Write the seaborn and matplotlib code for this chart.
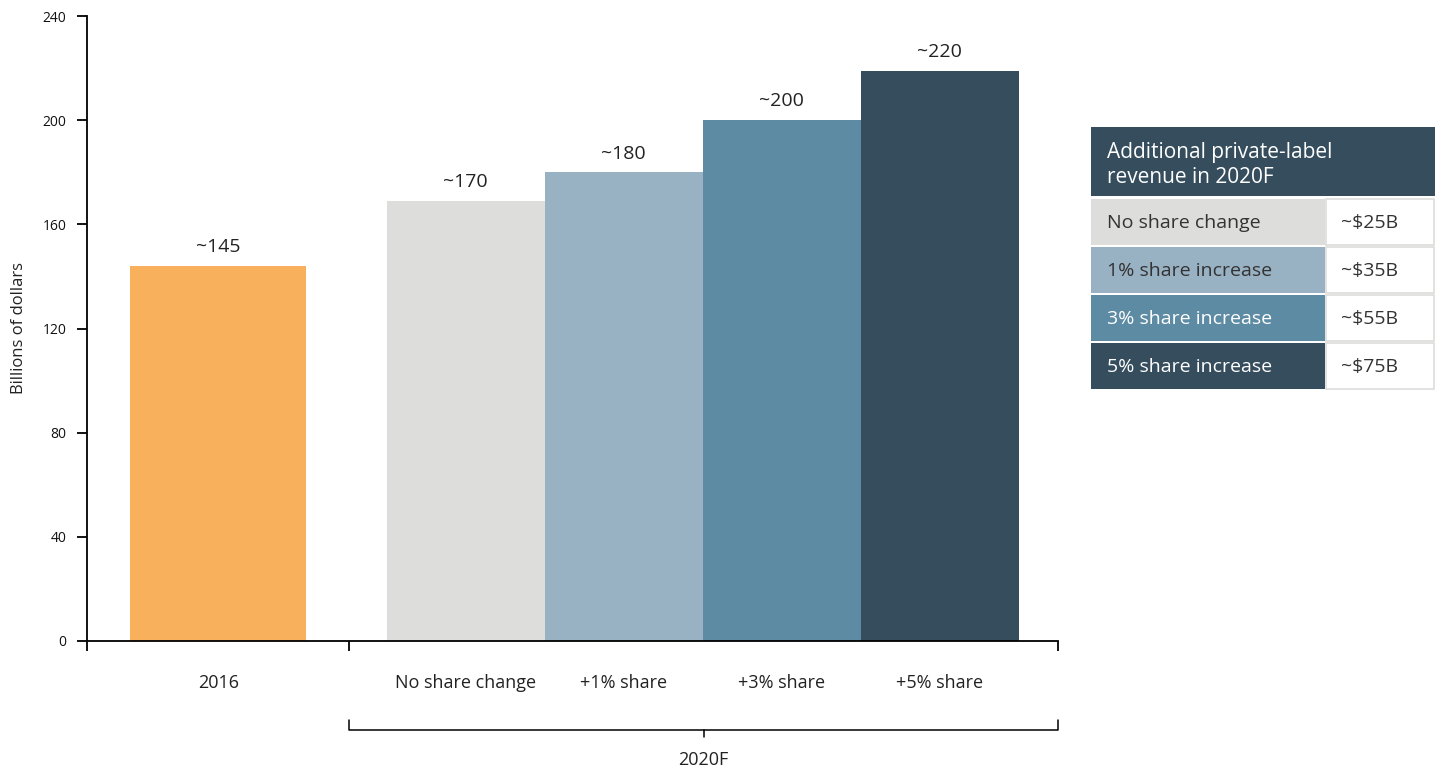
import matplotlib
matplotlib.use("Agg")
import matplotlib.pyplot as plt
import matplotlib.transforms as mtransforms
from matplotlib.patches import Rectangle
import seaborn as sns
import pandas as pd

# ---------------- data ----------------
base_label = ["2016"]
base_value = [144]
base_text = ["~145"]

scenario_labels = ["No share change", "+1% share", "+3% share", "+5% share"]
scenario_values = [169, 180, 200, 219]
scenario_text = ["~170", "~180", "~200", "~220"]

group_label = "2020F"
y_label = "Billions of dollars"
y_ticks = [0, 40, 80, 120, 160, 200, 240]

table_title = "Additional private-label\nrevenue in 2020F"
table_rows = ["No share change", "1% share increase", "3% share increase", "5% share increase"]
table_values = ["~$25B", "~$35B", "~$55B", "~$75B"]

# ---------------- style ----------------
sns.set_theme(style="white")
plt.rcParams["font.family"] = ["Open Sans", "DejaVu Sans"]
text_color = "#222222"

base_color = "#F8B05D"
scenario_colors = ["#DDDDDB", "#98B1C3", "#5D8BA4", "#354D5D"]
row_text_colors = ["#333333", "#333333", "white", "white"]

fig = plt.figure(figsize=(14.4, 7.7), dpi=100)
ax = fig.add_axes([87 / 1440, 129 / 770, (1058 - 87) / 1440, 625 / 770])

# layout (in bar units: one scenario bar = 1 unit)
scen_pos = list(range(len(scenario_labels)))
base_pos = [-1.566]
x_left, x_right, x_split = -2.396, 3.75, -0.737

df_base = pd.DataFrame({"x": base_pos, "y": base_value, "cat": base_label})
df_scen = pd.DataFrame({"x": scen_pos, "y": scenario_values, "cat": scenario_labels})

sns.barplot(data=df_base, x="x", y="y", hue="cat", palette=[base_color],
            native_scale=True, width=1.114, legend=False, ax=ax,
            linewidth=0, saturation=1)
sns.barplot(data=df_scen, x="x", y="y", hue="cat", palette=scenario_colors,
            hue_order=scenario_labels, native_scale=True, width=1.0,
            legend=False, ax=ax, linewidth=0, saturation=1, dodge=False)

# value labels
all_text = base_text + scenario_text
for cont, lab in zip(ax.containers, all_text):
    ax.bar_label(cont, labels=[lab], padding=7, fontsize=14, color=text_color)

ax.set_xlim(x_left, x_right)
ax.set_ylim(0, 240)
ax.set_yticks(y_ticks)
ax.set_yticklabels([str(t) for t in y_ticks], fontsize=10, color="#111111")
ax.set_ylabel(y_label, fontsize=12, color=text_color, labelpad=11)
ax.set_xlabel("")

# major ticks (separators), minor ticks (category labels)
ax.set_xticks([x_left, x_split, x_right])
ax.set_xticklabels(["", "", ""])
ax.set_xticks(base_pos + scen_pos, minor=True)
ax.set_xticklabels(base_label + scenario_labels, minor=True, fontsize=13, color=text_color)
ax.tick_params(axis="x", which="major", direction="out", length=7, width=1.3,
               color="black", bottom=True)
ax.tick_params(axis="x", which="minor", length=0, pad=24, bottom=True)
ax.tick_params(axis="y", direction="out", length=7, width=1.3, color="black",
               left=True, pad=8)

for s in ["top", "right"]:
    ax.spines[s].set_visible(False)
for s in ["left", "bottom"]:
    ax.spines[s].set_color("black")
    ax.spines[s].set_linewidth(1.3)

# 2020F bracket
tr = mtransforms.blended_transform_factory(ax.transData, ax.transAxes)
yb, yt, yd = -0.1424, -0.1264, -0.1536
ax.plot([x_split, x_split, x_right, x_right], [yt, yb, yb, yt], color="black",
        lw=1.1, transform=tr, clip_on=False)
mid = (x_split + x_right) / 2
ax.plot([mid, mid], [yb, yd], color="black", lw=1.1, transform=tr, clip_on=False)
ax.text(mid, -0.19, group_label, transform=tr, ha="center", va="center",
        fontsize=13, color=text_color)

# ---------------- table ----------------
tax = fig.add_axes([1091 / 1440, (770 - 392) / 770, (1435 - 1091) / 1440, (392 - 127) / 770])
tax.set_xlim(0, 344)
tax.set_ylim(265, 0)
tax.axis("off")

tax.add_patch(Rectangle((0, 0), 344, 69, facecolor="#354D5D", edgecolor="none"))
tax.text(16, 38, table_title, ha="left", va="center", fontsize=15,
         color="white", linespacing=1.3)

row_h = 48
for i, (lab, val) in enumerate(zip(table_rows, table_values)):
    y0 = 72 + i * row_h
    tax.add_patch(Rectangle((0, y0), 234, row_h - 2, facecolor=scenario_colors[i],
                            edgecolor="none"))
    tax.add_patch(Rectangle((235, y0), 108, row_h - 2, facecolor="white",
                            edgecolor="#DDDDDB", lw=1.2))
    tax.text(16, y0 + row_h / 2, lab, ha="left", va="center", fontsize=14,
             color=row_text_colors[i])
    tax.text(250, y0 + row_h / 2, val, ha="left", va="center", fontsize=14,
             color="#333333")

fig.savefig("out.png", dpi=100)
